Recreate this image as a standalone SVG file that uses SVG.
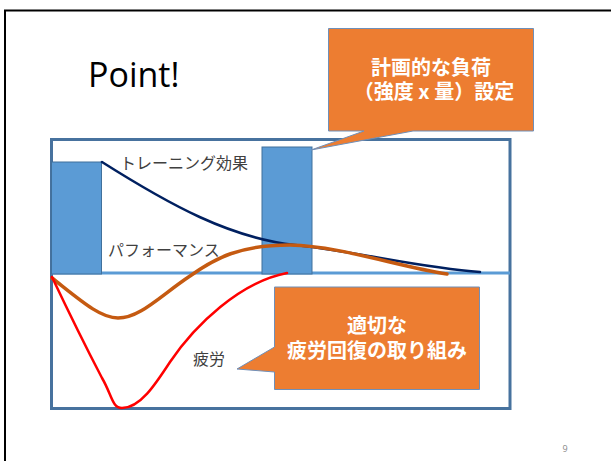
<svg xmlns="http://www.w3.org/2000/svg" width="611" height="461" viewBox="0 0 611 461">
<style>
.jp{font-family:"Noto Sans CJK JP","Noto Sans",sans-serif}
.lbl{font-size:16px;fill:#404040}
.callt{font-size:20px;font-weight:bold;fill:#ffffff;text-anchor:middle}
.call{fill:#ED7D31;stroke:#6F8FB8;stroke-width:1}
.bar{fill:#5B9BD5;stroke:#41719C;stroke-width:1}
.curve{fill:none;stroke-linecap:round}
</style>
<rect width="611" height="461" fill="#ffffff"/>
<rect x="5" y="10.5" width="620" height="470" fill="none" stroke="#000000" stroke-width="2"/>
<text x="88" y="87" font-family="Open Sans, sans-serif" font-size="34" fill="#000000">Point!</text>
<g id="frame">
<rect x="51.5" y="139.5" width="458.5" height="269" fill="none" stroke="#47729E" stroke-width="3"/>
<line x1="51" y1="273" x2="510" y2="273" stroke="#5B9BD5" stroke-width="3"/>
</g>
<g id="bar1"><rect class="bar" x="51.5" y="162" width="50" height="112"/></g>
<g id="bar2"><rect class="bar" x="262" y="147" width="50" height="127"/></g>
<g id="connectors">
<path class="curve" d="M102,162 C170,205 230,238 295,245 C360,252 420,268 480,272" stroke="#002060" stroke-width="2.5"/>
<path class="curve" d="M52,278 C80,300 100,318 118,318 C140,318 160,296 190,276 C215,258 240,245 290,245 C340,246 400,267 447,274" stroke="#C55A11" stroke-width="3.5"/>
<path class="curve" d="M52,277 C70,315 90,355 102,378 C112,395 112,408 122,408 C140,408 155,385 170,362 C195,325 240,282 287,273" stroke="#FF0000" stroke-width="2.5"/>
</g>
<g id="label-training"><text class="jp lbl" x="120" y="169">トレーニング効果</text></g>
<g id="label-performance"><text class="jp lbl" x="108" y="256">パフォーマンス</text></g>
<g id="label-fatigue"><text class="jp lbl" x="193" y="365">疲労</text></g>
<g id="callout-load">
<path class="call" d="M328.5,28.5 H533.5 V131 H413 L311,150 L364,131 H328.5 Z"/>
<text class="jp callt"><tspan x="431" y="75">計画的な負荷</tspan><tspan x="434" y="99">（強度 x 量）設定</tspan></text>
</g>
<g id="callout-recovery">
<path class="call" d="M274.5,287 H479.5 V389.5 H274.5 V372 L237,369 L274.5,347 Z"/>
<text class="jp callt"><tspan x="377" y="333">適切な</tspan><tspan x="377" y="358">疲労回復の取り組み</tspan></text>
</g>
<text x="565" y="452" font-family="Open Sans, sans-serif" font-size="9" fill="#898989" text-anchor="middle">9</text>
</svg>
